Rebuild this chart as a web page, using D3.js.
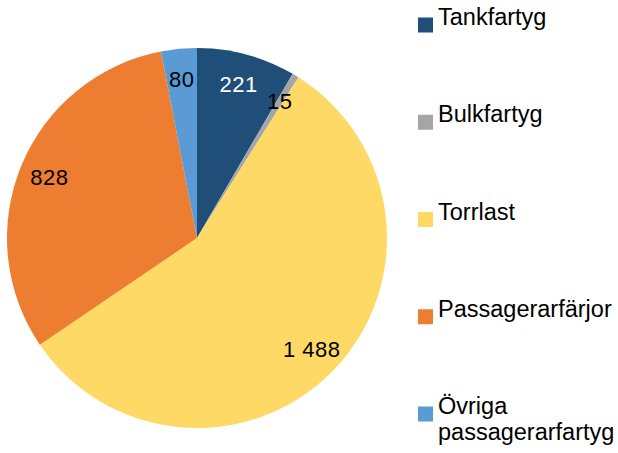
<!DOCTYPE html>
<html>
<head>
<meta charset="utf-8">
<script src="https://cdn.jsdelivr.net/npm/d3@7"></script>
<style>
  body { margin: 0; background: #fff; }
  text { font-family: "Liberation Sans", Arial, sans-serif; }
</style>
</head>
<body>
<div id="chart"></div>
<script>
const categories = ['Tankfartyg', 'Bulkfartyg', 'Torrlast', 'Passagerarfärjor', 'Övriga passagerarfartyg'];
const values     = [221, 15, 1488, 828, 80];
const valueLabels = ['221', '15', '1 488', '828', '80'];
const colors     = ['#1f4e79', '#a5a5a5', '#ffd966', '#ed7d31', '#5b9bd5'];
const labelColors = ['#fff', '#000', '#000', '#000', '#000'];
const legendLines = [['Tankfartyg'], ['Bulkfartyg'], ['Torrlast'], ['Passagerarfärjor'], ['Övriga', 'passagerarfartyg']];

const width = 618, height = 453;
const cx = 197, cy = 238, radius = 190;

const svg = d3.select('#chart').append('svg')
  .attr('width', width)
  .attr('height', height);

const data = categories.map((c, i) => ({name: c, value: values[i], i}));

const pie = d3.pie()
  .sort(null)
  .value(d => d.value);

const arcs = pie(data);

const arc = d3.arc().innerRadius(0).outerRadius(radius);
const labelArc = d3.arc().innerRadius(radius * 0.84).outerRadius(radius * 0.84);

const g = svg.append('g').attr('transform', `translate(${cx},${cy})`);

g.selectAll('path')
  .data(arcs)
  .enter().append('path')
  .attr('d', arc)
  .attr('fill', d => colors[d.data.i]);

// 数值标签
g.selectAll('.val')
  .data(arcs)
  .enter().append('text')
  .attr('class', 'val')
  .attr('transform', d => `translate(${labelArc.centroid(d)})`)
  .attr('text-anchor', 'middle')
  .attr('dy', '0.35em')
  .attr('font-size', 22)
  .attr('letter-spacing', 0.5)
  .attr('fill', d => labelColors[d.data.i])
  .text(d => valueLabels[d.data.i]);

// 图例
const legendY = d3.scalePoint()
  .domain(categories)
  .range([25, 414]);

const legend = svg.selectAll('.legend')
  .data(data)
  .enter().append('g')
  .attr('class', 'legend')
  .attr('transform', d => `translate(418,${legendY(d.name)})`);

legend.append('rect')
  .attr('x', 0)
  .attr('y', -7.5)
  .attr('width', 15)
  .attr('height', 15)
  .attr('fill', d => colors[d.i]);

legend.append('text')
  .attr('x', 20)
  .attr('dy', '0.36em')
  .attr('font-size', 23.5)
  .attr('fill', '#000')
  .selectAll('tspan')
  .data(d => legendLines[d.i])
  .enter().append('tspan')
  .attr('x', 20)
  .attr('dy', (d, j) => j === 0 ? 0 : 26)
  .text(d => d);
</script>
</body>
</html>
